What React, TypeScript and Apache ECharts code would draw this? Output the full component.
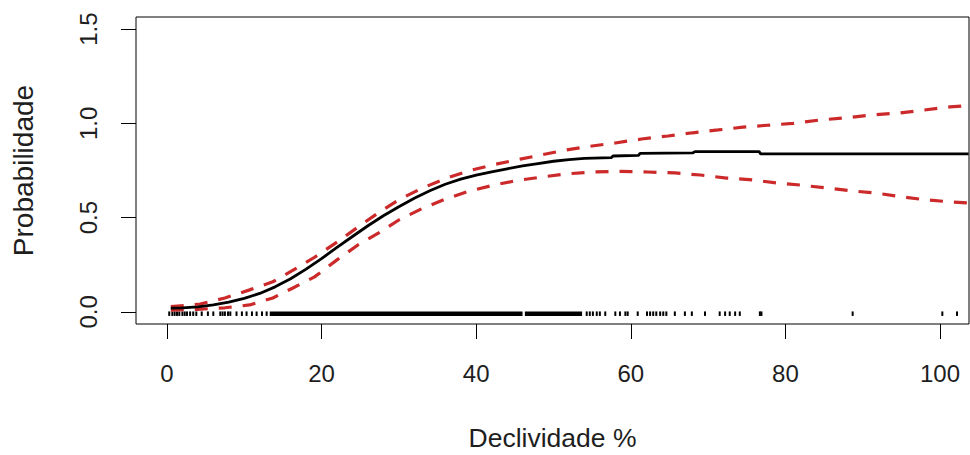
import React, { useEffect, useRef } from "react";
import * as echarts from "echarts";

// Fitted probability (black solid line): [declividade, probabilidade]
const fitCurve: [number, number][] = [
  [0.5, 0.02], [2, 0.021], [4, 0.027], [6, 0.037], [8, 0.052], [10, 0.072],
  [12, 0.098], [14, 0.133], [16, 0.176], [18, 0.227], [20, 0.283], [22, 0.342],
  [24, 0.4], [26, 0.457], [28, 0.51], [30, 0.558], [32, 0.603], [34, 0.643],
  [36, 0.677], [38, 0.704], [40, 0.725], [42, 0.743], [44, 0.759], [46, 0.774],
  [48, 0.787], [50, 0.799], [52, 0.808], [54, 0.814], [57.5, 0.818], [57.7, 0.827],
  [61, 0.83], [61.2, 0.841], [68, 0.843], [68.3, 0.85], [76.6, 0.85], [76.8, 0.838],
  [103.7, 0.838],
];

// Upper confidence band (red dashed)
const upperBand: [number, number][] = [
  [0.5, 0.028], [4.3, 0.042], [7.5, 0.074], [10.7, 0.117], [13.7, 0.16], [16.6, 0.228],
  [19.1, 0.29], [22, 0.37], [24.7, 0.45], [27.5, 0.53], [30.1, 0.597], [33.1, 0.658],
  [36.2, 0.71], [39.2, 0.75], [42.4, 0.782], [45.7, 0.81], [48.6, 0.834], [51.7, 0.859],
  [55, 0.88], [58, 0.896], [61.4, 0.917], [64.8, 0.933], [68, 0.95], [71.3, 0.965],
  [74.5, 0.98], [77.7, 0.99], [81, 1.0], [84.5, 1.018], [88, 1.03], [91.3, 1.045],
  [94.8, 1.055], [97.8, 1.07], [101.3, 1.087], [103.7, 1.095],
];

// Lower confidence band (red dashed)
const lowerBand: [number, number][] = [
  [0.5, 0.01], [4, 0.014], [7.5, 0.022], [10.7, 0.037], [13.7, 0.074], [16.3, 0.127],
  [19.1, 0.186], [22, 0.276], [24.7, 0.355], [27.6, 0.424], [30.1, 0.49], [33, 0.548],
  [36, 0.598], [38.9, 0.638], [42.2, 0.672], [45.4, 0.698], [48.6, 0.716], [51.9, 0.733],
  [55.1, 0.742], [58.5, 0.745], [62.2, 0.742], [65.7, 0.737], [69, 0.726], [72.4, 0.71],
  [75.7, 0.7], [78.9, 0.684], [81.9, 0.673], [85.4, 0.657], [88.6, 0.642], [91.8, 0.63],
  [95.1, 0.61], [98.3, 0.594], [101.6, 0.583], [103.7, 0.578],
];

// Rug of observations at y = 0: individual marks and densely covered spans
const rugSingles: number[] = [
  0.3, 0.7, 1.0, 1.3, 1.6, 2.0, 2.3, 2.6, 3.0, 3.4, 3.8, 4.5, 5.3, 6.0, 6.9, 7.2, 7.5,
  7.9, 8.2, 9.0, 9.7, 10.3, 11.0, 11.6, 12.3, 12.9,
  54.3, 54.7, 55.1, 55.6, 56.0, 56.7, 58.0, 58.6, 59.3, 59.6, 60.9, 62.1, 62.5, 62.9,
  63.3, 63.8, 64.2, 64.6, 65.7, 67.0, 67.9, 69.6, 71.5, 72.2, 72.8, 73.5, 74.1, 76.7,
  76.9, 88.7, 100.3, 102.2,
];
const rugSpans: [number, number][] = [
  [13.3, 46.0],
  [46.3, 53.7],
];

const xTicks = [0, 20, 40, 60, 80, 100];
const yTicks = [0, 0.5, 1, 1.5];
const xTitle = "Declividade %";
const yTitle = "Probabilidade";

export default function App() {
  const ref = useRef<HTMLDivElement>(null);

  useEffect(() => {
    if (!ref.current) return;
    const chart = echarts.init(ref.current, undefined, { renderer: "svg" });
    const font = "'Liberation Sans', Arial, sans-serif";
    const textColor = "#1e1e1e";
    const red = "#cc2a2a";

    const rugData = [
      ...rugSingles.map((v) => [v, v]),
      ...rugSpans.map((s) => [s[0], s[1]]),
    ];

    chart.setOption({
      animation: false,
      backgroundColor: "#ffffff",
      grid: {
        left: 136,
        top: 17,
        right: 1,
        bottom: 131,
        show: true,
        borderColor: "#000",
        borderWidth: 1,
        backgroundColor: "transparent",
        containLabel: false,
        outerBoundsMode: "none",
      },
      xAxis: {
        type: "value",
        min: -4,
        max: 103.75,
        name: xTitle,
        nameLocation: "middle",
        nameGap: 100,
        nameTextStyle: { fontFamily: font, fontSize: 26.5, color: textColor },
        axisLine: { show: false, onZero: false },
        splitLine: { show: false },
        axisTick: {
          show: true,
          inside: false,
          length: 15,
          customValues: xTicks,
          lineStyle: { color: "#000", width: 1 },
        },
        axisLabel: {
          customValues: xTicks,
          margin: 37,
          fontFamily: font,
          fontSize: 24,
          color: textColor,
        },
      },
      yAxis: {
        type: "value",
        min: -0.064,
        max: 1.564,
        name: yTitle,
        nameLocation: "middle",
        nameGap: 99,
        nameRotate: 90,
        nameTextStyle: { fontFamily: font, fontSize: 28, color: textColor },
        axisLine: { show: false, onZero: false },
        splitLine: { show: false },
        axisTick: {
          show: true,
          inside: false,
          length: 15,
          customValues: yTicks,
          lineStyle: { color: "#000", width: 1 },
        },
        axisLabel: {
          customValues: yTicks,
          rotate: 90,
          margin: 36,
          fontFamily: font,
          fontSize: 24,
          color: textColor,
          formatter: (v: number) => v.toFixed(1),
        },
      },
      series: [
        {
          type: "custom",
          name: "rug",
          z: 1,
          encode: { x: [0, 1], y: -1 },
          data: rugData,
          renderItem: (params: any, api: any) => {
            const a = api.value(0);
            const b = api.value(1);
            const p0 = api.coord([a, 0]);
            const p1 = api.coord([b, 0]);
            const single = b - a < 1e-9;
            const x = single ? p0[0] - 1 : p0[0];
            const w = single ? 2 : Math.max(2, p1[0] - p0[0]);
            return {
              type: "rect",
              shape: { x, y: p0[1] - 0.5, width: w, height: 4.5 },
              style: { fill: "#000" },
            };
          },
        },
        {
          type: "line",
          name: "upper",
          z: 3,
          data: upperBand,
          showSymbol: false,
          smooth: false,
          lineStyle: { color: red, width: 3.2, type: [13, 11] },
        },
        {
          type: "line",
          name: "lower",
          z: 3,
          data: lowerBand,
          showSymbol: false,
          smooth: false,
          lineStyle: { color: red, width: 3.2, type: [13, 11] },
        },
        {
          type: "line",
          name: "fit",
          z: 4,
          data: fitCurve,
          showSymbol: false,
          smooth: false,
          lineStyle: { color: "#000", width: 2.8 },
        },
      ],
    });

    return () => {
      chart.dispose();
    };
  }, []);

  return (
    <div
      ref={ref}
      style={{ position: "absolute", left: 0, top: 0, width: 970, height: 455 }}
    />
  );
}
